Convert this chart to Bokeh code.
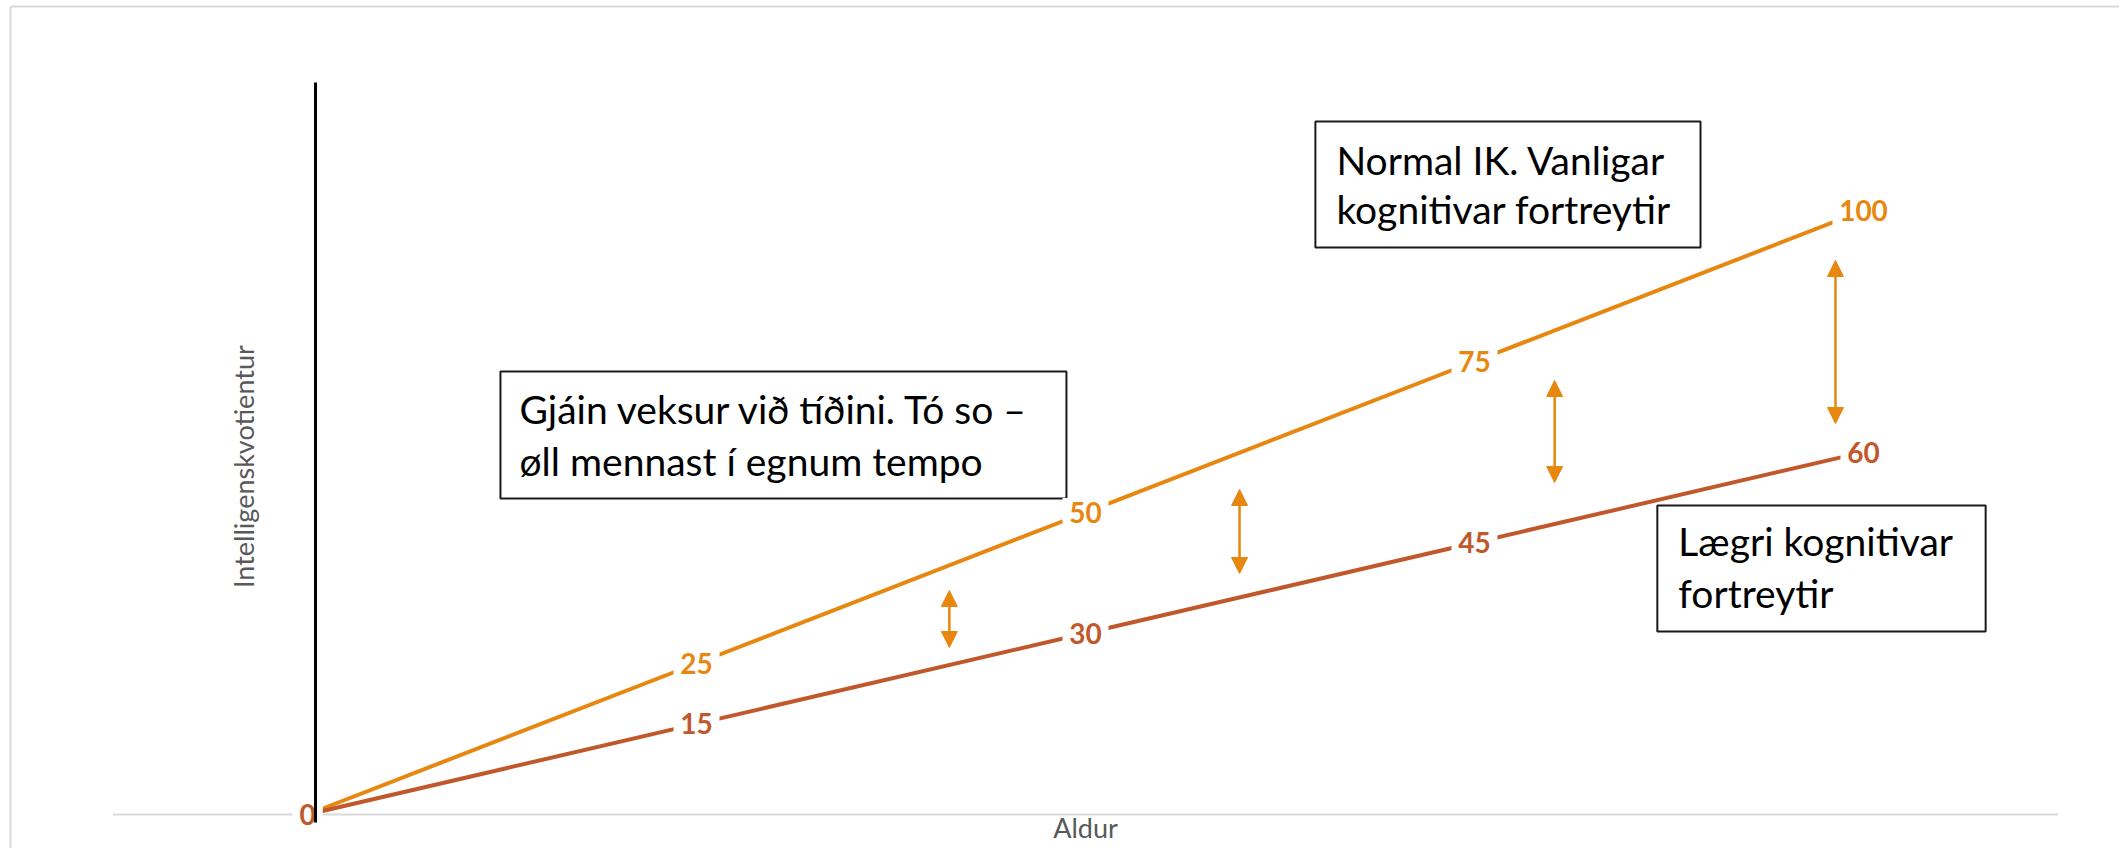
import numpy as np
from bokeh.plotting import figure
from bokeh.models import ColumnDataSource, Range1d, Arrow, NormalHead
from bokeh.embed import file_html
from bokeh.resources import INLINE
from bokeh.core.properties import value

# ---------------- data ----------------
categories = ["", "", "", "", ""]          # age steps (unlabelled in the original)
normal_iq = [0, 25, 50, 75, 100]            # "Normal IK"
lower_iq = [0, 15, 30, 45, 60]              # "Lægri kognitivar fortreytir"
x_title = "Aldur"
y_title = "Intelligenskvotientur"
box1_lines = ["Normal IK. Vanligar", "kognitivar fortreytir"]
box2_lines = ["Gjáin veksur við tíðini. Tó so –", "øll mennast í egnum tempo"]
box3_lines = ["Lægri kognitivar", "fortreytir"]

ORANGE = "#E8870F"
BROWN = "#C0582B"
FONT = value("Lato")

xs = list(range(len(categories)))

p = figure(width=2119, height=848,
           x_range=Range1d(-0.7892, 4.6581), y_range=Range1d(-5.629, 134.768),
           output_backend="svg", toolbar_location=None,
           x_axis_location=None, y_axis_location=None, min_border=0)
p.outline_line_color = None
p.xgrid.visible = False
p.ygrid.visible = False
p.background_fill_color = "white"

# chart-area border (top and left edges visible)
p.line([-0.7635, 4.6581], [133.77, 133.77], line_color="#d9d9d9", line_width=2)
p.line([-0.7635, -0.7635], [133.77, -5.629], line_color="#d9d9d9", line_width=2)

# horizontal category axis line at 0
p.line([-0.5, len(categories) - 0.5], [0, 0], line_color="#d9d9d9", line_width=2)

# series lines
p.line(xs, normal_iq, line_color=ORANGE, line_width=4, line_cap="round", line_join="round")
p.line(xs, lower_iq, line_color=BROWN, line_width=4, line_cap="round", line_join="round")

# text boxes
boxes = ColumnDataSource(dict(left=[2.591, 0.496, 3.470], right=[3.581, 1.951, 4.314],
                              top=[114.74, 73.34, 51.16], bottom=[93.87, 52.32, 30.30]))
p.quad(left="left", right="right", top="top", bottom="bottom", source=boxes,
       fill_color="white", line_color="#1a1a1a", line_width=2)

def box_text(x, ys, lines):
    p.text(x=[x] * len(lines), y=ys, text=lines, text_font=FONT, text_font_size="39px",
           text_color="black", text_align="left", text_baseline="alphabetic")

box_text(2.645, [108.4, 100.2], box1_lines)
box_text(0.545, [67.2, 58.6], box2_lines)
box_text(3.524, [45.3, 36.6], box3_lines)

# data labels with white background
def data_labels(vals, color):
    txt = [str(v) for v in vals]
    w = [14 + 16 * len(t) for t in txt]
    src = ColumnDataSource(dict(x=xs, y=vals, text=txt, w=w))
    p.rect(x="x", y="y", width="w", height=29, width_units="screen", height_units="screen",
           source=src, fill_color="white", line_color=None)
    p.text(x="x", y="y", text="text", source=src, text_font=FONT, text_font_size="28px",
           text_font_style="bold", text_color=color, text_align="center", text_baseline="middle")

data_labels(normal_iq, ORANGE)
data_labels(lower_iq, BROWN)

# gap arrows
arrows = [(1.650, 27.65, 37.09), (2.396, 39.90, 53.81), (3.206, 54.97, 71.85), (3.928, 64.74, 91.72)]
for ax, y0, y1 in arrows:
    p.add_layout(Arrow(x_start=ax, y_start=y0, x_end=ax, y_end=y1,
                       line_color=ORANGE, line_width=2.5,
                       start=NormalHead(size=16, fill_color=ORANGE, line_color=ORANGE, line_width=1),
                       end=NormalHead(size=16, fill_color=ORANGE, line_color=ORANGE, line_width=1)))

# vertical black line (drawn shape in front)
vl = p.line([0.0206, 0.0206], [-1.32, 121.2], line_color="black", line_width=3)
vl.level = "overlay"

# axis titles
p.text(x=[-0.1645], y=[57.6], text=[y_title], angle=np.pi / 2, text_font=FONT,
       text_font_size="27px", text_color="#595959", text_align="center", text_baseline="middle")
p.text(x=[(len(categories) - 1) / 2], y=[-2.15], text=[x_title], text_font=FONT,
       text_font_size="27px", text_color="#595959", text_align="center", text_baseline="alphabetic")

open("out.html", "w").write(file_html(p, INLINE))
